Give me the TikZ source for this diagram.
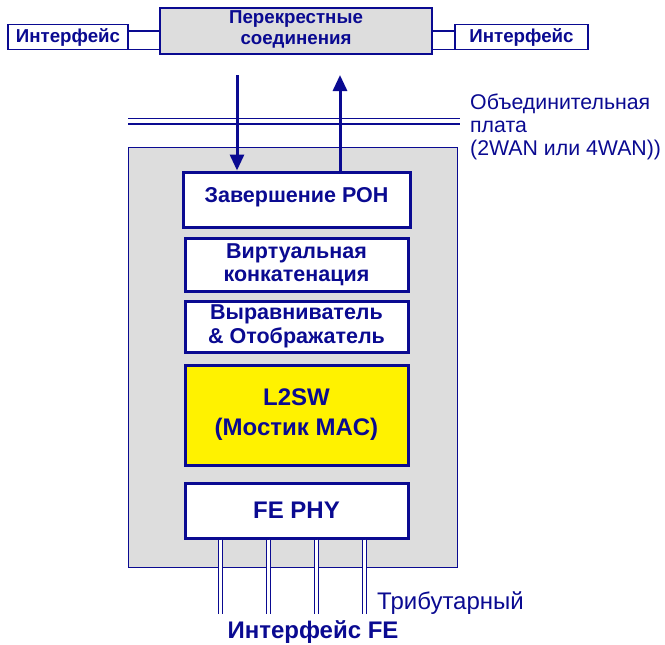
\documentclass[tikz,border=0pt]{standalone}
\usepackage{fontspec}
\setmainfont{Liberation Sans}
\usepackage{tikz}
\usetikzlibrary{arrows.meta,positioning}
\definecolor{navy}{RGB}{10,10,145}
\definecolor{panelgray}{RGB}{221,221,221}

\begin{document}
\begin{tikzpicture}[
x=1pt, y=-1pt,
topbox/.style={
rectangle,
draw=navy,
line width=1.5pt,
text=navy,
font=\bfseries\fontsize{18.7}{21}\selectfont,
align=center,
inner sep=0pt
},
blockbox/.style={
rectangle,
draw=navy,
line width=3pt,
fill=white,
text=navy,
font=\bfseries\fontsize{21.5}{23.5}\selectfont,
minimum width=223pt,
align=center,
inner sep=0pt
},
bigblock/.style={blockbox, font=\bfseries\fontsize{24}{30}\selectfont},
link/.style={draw=navy, line width=1.5pt},
arrow/.style={navy, line width=3pt, -{Triangle[length=16pt,width=14pt]}},
wire/.style={navy, line width=1.3pt, double=white, double distance=3pt}
]
\useasboundingbox (0,0) rectangle (665,645);

% top row
\node[topbox, fill=white, minimum width=120pt, minimum height=25pt] (ifl) at (68,37) {Интерфейс};
\node[topbox, fill=panelgray, minimum width=272pt, minimum height=46pt, text depth=6pt] (cross) at (296,31) {Перекрестные\\соединения};
\node[topbox, fill=white, minimum width=133pt, minimum height=25pt] (ifr) at (521.5,37) {Интерфейс};

\draw[link] ([yshift=6pt]ifl.east) -- ([yshift=6pt]ifl.east -| cross.west);
\draw[link] ([yshift=1pt]ifl.south east) -- ([yshift=1pt]ifl.south east -| cross.west);
\draw[link] ([yshift=6pt]ifr.west) -- ([yshift=6pt]ifr.west -| cross.east);
\draw[link] ([yshift=1pt]ifr.south west) -- ([yshift=1pt]ifr.south west -| cross.east);

% backplane
\coordinate (bpl) at (128,121);
\coordinate (bpr) at (460,121);
\draw[navy, line width=1.5pt, double=white, double distance=4pt] (bpl) -- (bpr);
\node[anchor=north west, align=left, text=navy, font=\fontsize{21.3}{23}\selectfont, inner sep=0pt] (bplabel) at (470,94) {Объединительная\\плата\\(2WAN или 4WAN))};

% card
\node[rectangle, draw=navy, line width=1pt, fill=panelgray, minimum width=329pt, minimum height=420pt] (card) at (292.5,357) {};

\node[blockbox, minimum width=227pt, minimum height=55pt, text depth=10pt] (poh) at (296.5,199.5) {Завершение РОН};
\node[blockbox, minimum height=53pt] (vcat) at (296.5,264.5) {Виртуальная\\конкатенация};
\node[blockbox, minimum height=51pt] (mapper) at (296.5,326.5) {Выравниватель\\\& Отображатель};
\node[bigblock, fill=yellow, minimum height=100pt] (l2sw) at (296.5,415) {L2SW\\(Мостик MAC)};
\node[bigblock, minimum height=55pt] (phy) at (296.5,510.5) {FE PHY};

% arrows to and from the cross connect
\coordinate (downtop) at (237,75);
\coordinate (uptop) at (340,75);
\draw[arrow] (downtop) -- (downtop |- poh.north);
\draw[arrow] (uptop |- poh.north) -- (uptop);

% tributary wires
\foreach \dx in {-76,-28,20,68}
  \draw[wire] ([xshift=\dx pt]phy.south) -- ++(0,74);

\node[anchor=west, text=navy, font=\fontsize{24}{28}\selectfont, inner sep=0pt] (tribl) at (377,603) {Трибутарный};
\node[text=navy, font=\bfseries\fontsize{24}{28}\selectfont, inner sep=0pt] (fel) at (313,632) {Интерфейс FE};

\end{tikzpicture}
\end{document}
